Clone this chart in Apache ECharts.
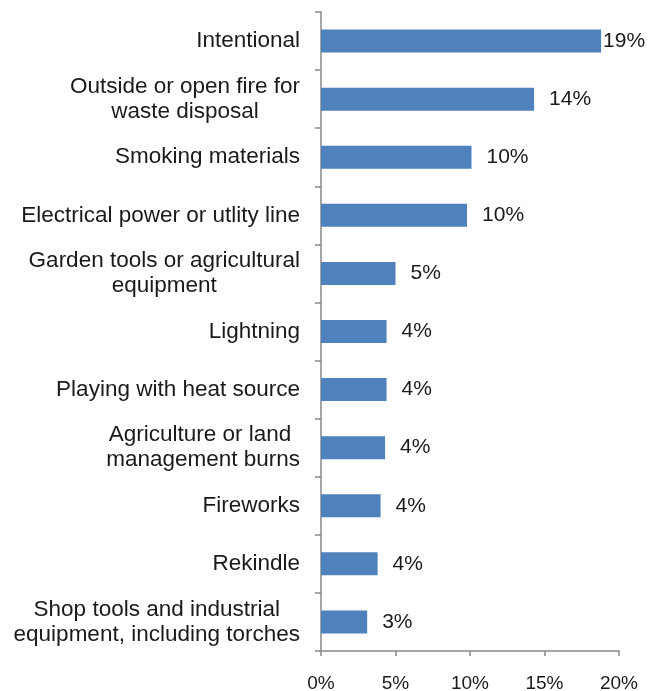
<!DOCTYPE html>
<html>
<head>
<meta charset="utf-8">
<script src="https://cdn.jsdelivr.net/npm/echarts@6/dist/echarts.min.js"></script>
<style>
  html, body { margin: 0; padding: 0; background: #fff; }
  #chart { width: 654px; height: 691px; }
</style>
</head>
<body>
<div id="chart"></div>
<script>
// Causes of fires, share of incidents (%)
const categories = [
  'Intentional',
  'Outside or open fire for\nwaste disposal',
  'Smoking materials',
  'Electrical power or utlity line',
  'Garden tools or agricultural\nequipment',
  'Lightning',
  'Playing with heat source',
  'Agriculture or land \nmanagement burns',
  'Fireworks',
  'Rekindle',
  'Shop tools and industrial\nequipment, including torches'
];
const shares = [18.8, 14.3, 10.1, 9.8, 5.0, 4.4, 4.4, 4.3, 4.0, 3.8, 3.1];
const xTicks = [0, 5, 10, 15, 20];

const axisGrey = '#898989';
const textColor = '#1a1a1a';
const font = 'Liberation Sans, Arial, sans-serif';
const catSize = 22.5;

// centre each line of a wrapped label inside its right-anchored block
function centredLines(text) {
  return text.split('\n').map(l => '{c|' + l + '}').join('\n');
}

const chart = echarts.init(document.getElementById('chart'));
chart.setOption({
  animation: false,
  grid: { left: 321, right: 35, top: 12, bottom: 40, containLabel: false, outerBoundsMode: 'none' },
  xAxis: {
    type: 'value',
    min: xTicks[0],
    max: xTicks[xTicks.length - 1],
    interval: 5,
    axisLine: { show: true, lineStyle: { color: axisGrey, width: 1.5 } },
    axisTick: { show: true, length: 5, lineStyle: { color: axisGrey, width: 1.5 } },
    splitLine: { show: false },
    axisLabel: {
      formatter: '{value}%',
      color: textColor,
      fontFamily: font,
      fontSize: 19,
      margin: 23
    }
  },
  yAxis: {
    type: 'category',
    inverse: true,
    data: categories,
    axisLine: { show: true, lineStyle: { color: axisGrey, width: 1.5 } },
    axisTick: { show: true, length: 6, lineStyle: { color: axisGrey, width: 1.5 } },
    axisLabel: {
      color: textColor,
      fontFamily: font,
      fontSize: catSize,
      lineHeight: 25,
      margin: 21,
      align: 'right',
      formatter: centredLines,
      rich: {
        c: { align: 'center', color: textColor, fontFamily: font, fontSize: catSize, lineHeight: 25 }
      }
    }
  },
  series: [{
    type: 'bar',
    data: shares.map((v, i) => i === 0
      ? { value: v, label: { distance: 2 } }
      : v),
    barWidth: 23,
    itemStyle: { color: '#4f81bd' },
    label: {
      show: true,
      position: 'right',
      distance: 15,
      color: textColor,
      fontFamily: font,
      fontSize: 21,
      formatter: p => Math.round(p.value) + '%'
    }
  }]
});
</script>
</body>
</html>
